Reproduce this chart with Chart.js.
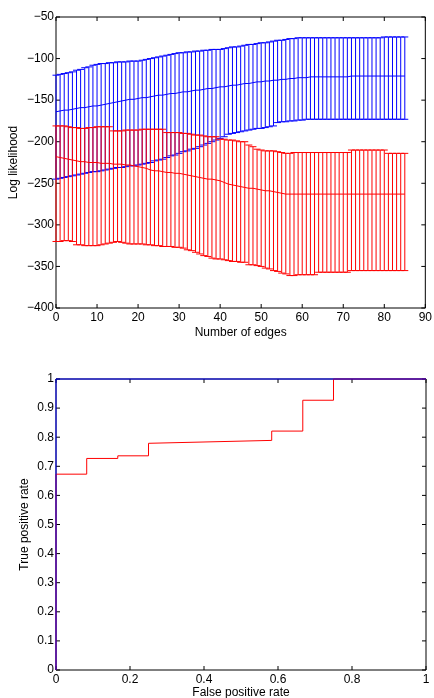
<!DOCTYPE html>
<html>
<head>
<meta charset="utf-8">
<script src="https://cdn.jsdelivr.net/npm/chart.js@4.4.1/dist/chart.umd.min.js"></script>
<style>
  html, body { margin: 0; padding: 0; background: #fff; overflow: hidden; }
  #wrap { position: relative; width: 434px; height: 698px; overflow: hidden; }
  canvas { position: absolute; left: 0; }
  #edgeChart { top: 0; }
  #rocChart { top: 350px; }
</style>
</head>
<body>
<div id="wrap">
  <canvas id="edgeChart" width="434" height="350"></canvas>
  <canvas id="rocChart" width="434" height="360"></canvas>
</div>
<script>
// ------------------- DATA -------------------
// top plot: log likelihood vs number of edges (mean with lower/upper error bars)
const edges = [
  0, 1, 2, 3, 4, 5, 6, 7, 8, 9, 10, 11, 12, 13, 14, 15, 16, 17, 18, 19,
  20, 21, 22, 23, 24, 25, 26, 27, 28, 29, 30, 31, 32, 33, 34, 35, 36, 37, 38, 39,
  40, 41, 42, 43, 44, 45, 46, 47, 48, 49, 50, 51, 52, 53, 54, 55, 56, 57, 58, 59,
  60, 61, 62, 63, 64, 65, 66, 67, 68, 69, 70, 71, 72, 73, 74, 75, 76, 77, 78, 79,
  80, 81, 82, 83, 84, 85
];

const blueUpper = [
  -120, -119, -118, -117, -116, -114, -113, -111, -110, -108,
  -107, -106, -106, -105, -105, -104, -104, -104, -103, -103,
  -103, -102, -101, -100, -99, -98, -97, -96, -95, -94,
  -93, -93, -92, -92, -91, -91, -90, -90, -89, -89,
  -89, -88, -87, -86, -86, -85, -84, -83, -83, -82,
  -81, -81, -80, -79, -78, -78, -77, -76, -76, -75,
  -75, -75, -75, -75, -75, -75, -75, -75, -75, -75,
  -75, -75, -75, -75, -75, -75, -75, -75, -75, -75,
  -74, -74, -74, -74, -74, -74
];
const blueMean = [
  -164, -163, -162, -162, -161, -160, -159, -159, -158, -157,
  -157, -156, -155, -154, -153, -152, -151, -150, -149, -149,
  -148, -147, -147, -146, -145, -144, -144, -143, -142, -142,
  -141, -140, -140, -139, -138, -138, -137, -136, -136, -135,
  -134, -134, -133, -132, -132, -131, -130, -130, -129, -128,
  -128, -127, -127, -126, -126, -125, -125, -124, -124, -123,
  -123, -123, -122, -122, -122, -122, -122, -122, -122, -122,
  -122, -122, -121, -121, -121, -121, -121, -121, -121, -121,
  -121, -121, -121, -121, -121, -121
];
const blueLower = [
  -245, -244, -243, -242, -241, -240, -239, -238, -237, -236,
  -236, -235, -234, -233, -232, -231, -231, -230, -229, -229,
  -228, -227, -226, -225, -223, -222, -221, -219, -217, -216,
  -214, -212, -211, -209, -208, -206, -204, -202, -200, -198,
  -196, -194, -191, -190, -189, -188, -187, -186, -185, -184,
  -184, -183, -182, -181, -177, -176, -176, -175, -175, -174,
  -174, -173, -173, -173, -173, -173, -173, -173, -173, -173,
  -173, -173, -173, -173, -173, -173, -173, -173, -173, -173,
  -173, -173, -173, -173, -173, -173
];

const redUpper = [
  -181, -181, -181, -182, -183, -183, -184, -184, -183, -183,
  -182, -182, -182, -182, -187, -187, -187, -186, -186, -186,
  -186, -185, -185, -185, -185, -185, -185, -189, -189, -189,
  -189, -190, -190, -191, -192, -192, -193, -194, -194, -194,
  -197, -197, -198, -198, -199, -200, -200, -204, -206, -209,
  -210, -211, -211, -211, -212, -213, -214, -214, -213, -213,
  -213, -213, -213, -213, -213, -213, -213, -213, -213, -213,
  -213, -213, -210, -210, -210, -210, -210, -210, -210, -210,
  -210, -214, -214, -214, -214, -214
];
const redMean = [
  -218, -219, -220, -221, -222, -223, -224, -224, -225, -225,
  -225, -226, -226, -226, -227, -227, -227, -228, -228, -229,
  -230, -231, -232, -234, -235, -235, -236, -237, -237, -238,
  -238, -239, -240, -241, -242, -243, -244, -245, -245, -246,
  -247, -249, -251, -252, -253, -254, -255, -256, -256, -257,
  -258, -259, -259, -260, -261, -262, -263, -263, -263, -263,
  -263, -263, -263, -263, -263, -263, -263, -263, -263, -263,
  -263, -263, -263, -263, -263, -263, -263, -263, -263, -263,
  -263, -263, -263, -263, -263, -263
];
const redLower = [
  -320, -320, -319, -319, -320, -324, -324, -325, -325, -325,
  -325, -324, -323, -322, -321, -320, -321, -322, -323, -323,
  -323, -323, -324, -324, -325, -325, -326, -326, -326, -327,
  -327, -328, -330, -331, -333, -335, -337, -338, -340, -341,
  -341, -342, -343, -344, -344, -345, -345, -348, -348, -349,
  -350, -352, -353, -355, -356, -358, -359, -361, -361, -360,
  -360, -360, -360, -360, -357, -357, -357, -357, -357, -357,
  -357, -357, -355, -355, -355, -355, -355, -355, -355, -355,
  -355, -355, -355, -355, -355, -355
];

// bottom plot: ROC curves
const rocFpr = [0, 0, 0.083, 0.083, 0.167, 0.167, 0.25, 0.25, 0.583, 0.583, 0.667, 0.667, 0.75, 0.75, 1];
const rocTpr = [0, 0.673, 0.673, 0.727, 0.727, 0.736, 0.736, 0.779, 0.789, 0.821, 0.821, 0.927, 0.927, 1, 1];
const idealFpr = [0, 0, 1];
const idealTpr = [0, 1, 1];

// ------------------- STYLE HELPERS -------------------
const FONT = "'Liberation Sans', Arial, Helvetica, sans-serif";
const tickFont = { family: FONT, size: 12 };
const titleFont = { family: FONT, size: 12 };
const BLUE = "#0000ff";
const RED = "#ff0000";

const toPoints = (xs, ys) => xs.map((x, i) => ({ x: x, y: ys[i] }));
const minusSign = v => String(v).replace("-", "\u2212");

// box round the plot with inward tick marks on all four sides
const matlabAxes = {
  id: "matlabAxes",
  beforeDatasetsDraw(chart) {
    const { ctx, chartArea: a, scales } = chart;
    const len = 4;
    ctx.save();
    ctx.strokeStyle = "#000";
    ctx.lineWidth = 1;
    ctx.beginPath();
    ctx.rect(a.left, a.top, a.right - a.left, a.bottom - a.top);
    scales.x.ticks.forEach(t => {
      const x = scales.x.getPixelForValue(t.value);
      ctx.moveTo(x, a.bottom); ctx.lineTo(x, a.bottom - len);
      ctx.moveTo(x, a.top); ctx.lineTo(x, a.top + len);
    });
    scales.y.ticks.forEach(t => {
      const y = scales.y.getPixelForValue(t.value);
      ctx.moveTo(a.left, y); ctx.lineTo(a.left + len, y);
      ctx.moveTo(a.right, y); ctx.lineTo(a.right - len, y);
    });
    ctx.stroke();
    ctx.restore();
  }
};

// vertical error bars with caps, drawn from errLow / errHigh on each dataset
const errorBars = {
  id: "errorBars",
  beforeDatasetsDraw(chart) {
    const { ctx, scales } = chart;
    const tee = 0.85; // half cap width in x units
    ctx.save();
    ctx.lineWidth = 1;
    chart.data.datasets.forEach(ds => {
      if (!ds.errLow) return;
      ctx.strokeStyle = ds.borderColor;
      ctx.beginPath();
      ds.data.forEach((p, i) => {
        const x = scales.x.getPixelForValue(p.x);
        const xl = scales.x.getPixelForValue(p.x - tee);
        const xr = scales.x.getPixelForValue(p.x + tee);
        const yl = scales.y.getPixelForValue(ds.errLow[i]);
        const yh = scales.y.getPixelForValue(ds.errHigh[i]);
        ctx.moveTo(x, yl); ctx.lineTo(x, yh);
        ctx.moveTo(xl, yl); ctx.lineTo(xr, yl);
        ctx.moveTo(xl, yh); ctx.lineTo(xr, yh);
      });
      ctx.stroke();
    });
    ctx.restore();
  }
};

// ------------------- TOP CHART -------------------
new Chart(document.getElementById("edgeChart"), {
  type: "line",
  data: {
    datasets: [
      {
        data: toPoints(edges, blueMean),
        errLow: blueLower,
        errHigh: blueUpper,
        borderColor: BLUE,
        borderWidth: 1,
        pointRadius: 0,
        tension: 0
      },
      {
        data: toPoints(edges, redMean),
        errLow: redLower,
        errHigh: redUpper,
        borderColor: RED,
        borderWidth: 1,
        pointRadius: 0,
        tension: 0
      }
    ]
  },
  options: {
    responsive: false,
    animation: false,
    layout: { padding: { top: 17, right: 8, bottom: 6, left: 0 } },
    plugins: { legend: { display: false }, tooltip: { enabled: false } },
    scales: {
      x: {
        type: "linear",
        min: 0,
        max: 90,
        ticks: { stepSize: 10, color: "#000", font: tickFont, padding: 2, maxRotation: 0, autoSkip: false },
        grid: { display: false, drawTicks: false },
        border: { display: false },
        title: { display: true, text: "Number of edges", color: "#000", font: titleFont, padding: { top: 0, bottom: 4 } },
        afterFit: s => { s.height = 36; }
      },
      y: {
        type: "linear",
        min: -400,
        max: -50,
        ticks: { stepSize: 50, color: "#000", font: tickFont, padding: 2, autoSkip: false, callback: minusSign },
        grid: { display: false, drawTicks: false },
        border: { display: false },
        title: { display: true, text: "Log likelihood", color: "#000", font: titleFont, padding: { top: 6, bottom: 0 } },
        afterFit: s => { s.width = 56; }
      }
    }
  },
  plugins: [matlabAxes, errorBars]
});

// ------------------- ROC CHART -------------------
new Chart(document.getElementById("rocChart"), {
  type: "line",
  data: {
    datasets: [
      {
        data: toPoints(idealFpr, idealTpr),
        borderColor: BLUE,
        borderWidth: 1,
        pointRadius: 0,
        tension: 0,
        clip: false
      },
      {
        data: toPoints(rocFpr, rocTpr),
        borderColor: RED,
        borderWidth: 1,
        pointRadius: 0,
        tension: 0,
        clip: false
      }
    ]
  },
  options: {
    responsive: false,
    animation: false,
    layout: { padding: { top: 29, right: 8, bottom: 6, left: 0 } },
    plugins: { legend: { display: false }, tooltip: { enabled: false } },
    scales: {
      x: {
        type: "linear",
        min: 0,
        max: 1,
        ticks: { stepSize: 0.2, color: "#000", font: tickFont, padding: 2, maxRotation: 0, autoSkip: false,
                 callback: v => String(Math.round(v * 10) / 10) },
        grid: { display: false, drawTicks: false },
        border: { display: false },
        title: { display: true, text: "False positive rate", color: "#000", font: titleFont, padding: { top: 0, bottom: 4 } },
        afterFit: s => { s.height = 34; }
      },
      y: {
        type: "linear",
        min: 0,
        max: 1,
        ticks: { stepSize: 0.1, color: "#000", font: tickFont, padding: 2, autoSkip: false,
                 callback: v => String(Math.round(v * 10) / 10) },
        grid: { display: false, drawTicks: false },
        border: { display: false },
        title: { display: true, text: "True positive rate", color: "#000", font: titleFont, padding: { top: 17, bottom: 0 } },
        afterFit: s => { s.width = 56; }
      }
    }
  },
  plugins: [matlabAxes]
});
</script>
</body>
</html>
